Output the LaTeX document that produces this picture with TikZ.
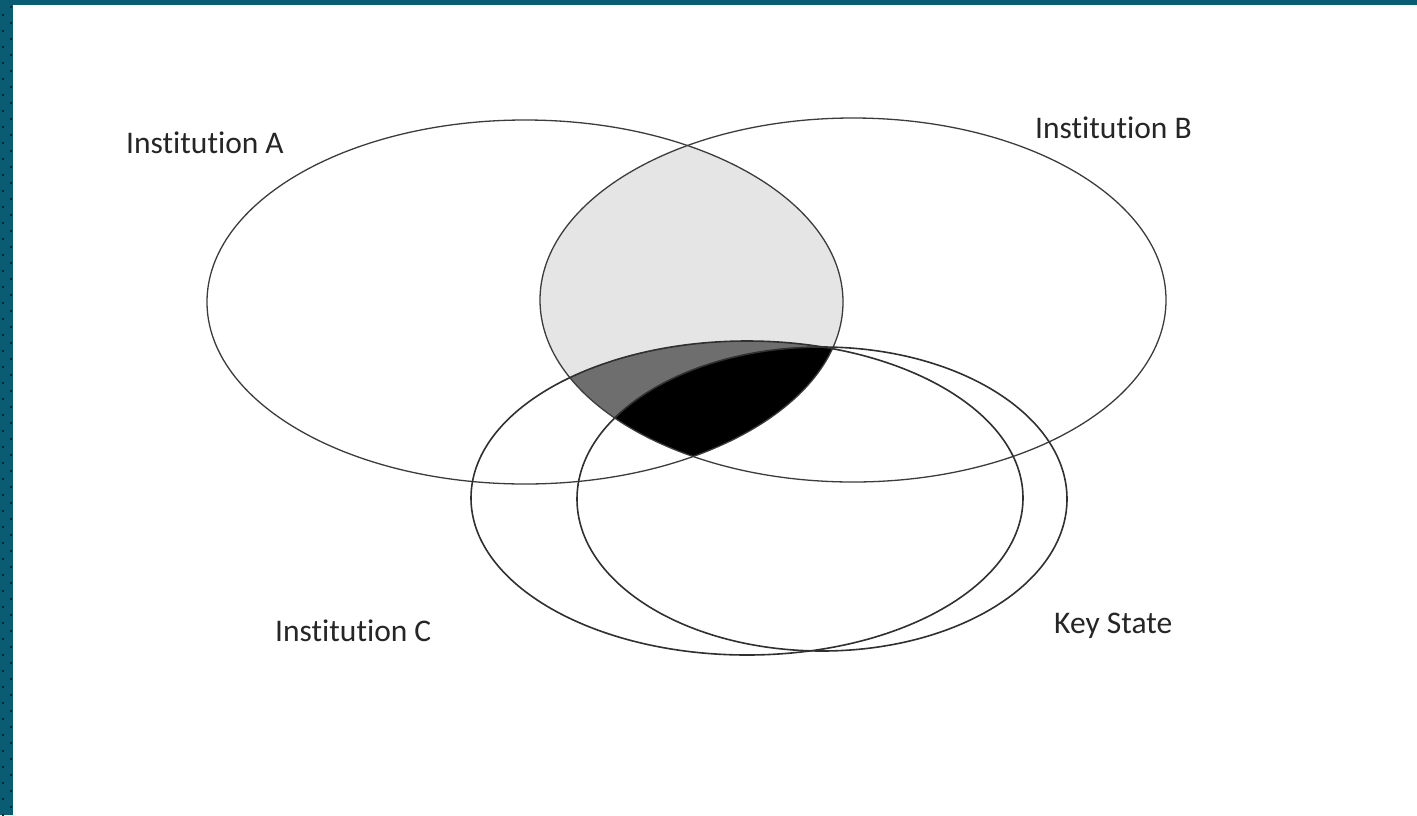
\documentclass[tikz,border=0pt]{standalone}
\usepackage{fontspec}
\setmainfont[Ligatures=NoCommon]{Carlito}
\definecolor{teal}{RGB}{10,92,115}
\definecolor{dotc}{RGB}{8,40,52}
\definecolor{lightg}{RGB}{229,229,229}
\definecolor{darkg}{RGB}{110,110,110}
\definecolor{linec}{RGB}{60,60,60}
\begin{document}
\begin{tikzpicture}[x=1pt,y=-1pt,
  outl/.style={draw=linec,line width=1.3pt},
  outlc/.style={draw=linec!80!black,line width=1.6pt},
  lbl/.style={font=\fontsize{31.5}{36}\selectfont,text=black!85,inner sep=0pt}]
\useasboundingbox (0,0) rectangle (1417,815);
\fill[white] (0,0) rectangle (1417,815);
% border
\fill[teal] (0,0) rectangle (1417,5);
\fill[teal] (0,0) rectangle (13,815);
\foreach \k in {0,...,50} {
  \fill[dotc] (10,{5.7+16*\k}) rectangle (12,{7.7+16*\k});
  \fill[dotc] (2,{13.7+16*\k}) rectangle (4,{15.7+16*\k});
}
% shading
\begin{scope}
  \clip (525,302) ellipse [x radius=318pt, y radius=182pt];
  \fill[lightg] (853,300) ellipse [x radius=313pt, y radius=182pt];
  \clip (853,300) ellipse [x radius=313pt, y radius=182pt];
  \fill[darkg] (747,498) ellipse [x radius=276pt, y radius=157pt];
  \fill[black] (822,499) ellipse [x radius=245pt, y radius=152pt];
\end{scope}
% outlines
\draw[outl] (525,302) ellipse [x radius=318pt, y radius=182pt];
\draw[outl] (853,300) ellipse [x radius=313pt, y radius=182pt];
\draw[outlc] (747,498) ellipse [x radius=276pt, y radius=157pt];
\draw[outlc] (822,499) ellipse [x radius=245pt, y radius=152pt];
% labels
\node[lbl,anchor=west] (la) at (126,143) {Institution A};
\node[lbl,anchor=west] (lb) at (1035,128) {Institution B};
\node[lbl,anchor=west] (lc) at (275,631) {Institution C};
\node[lbl,anchor=west] (lk) at (1054,626) {Key State};
\end{tikzpicture}
\end{document}
